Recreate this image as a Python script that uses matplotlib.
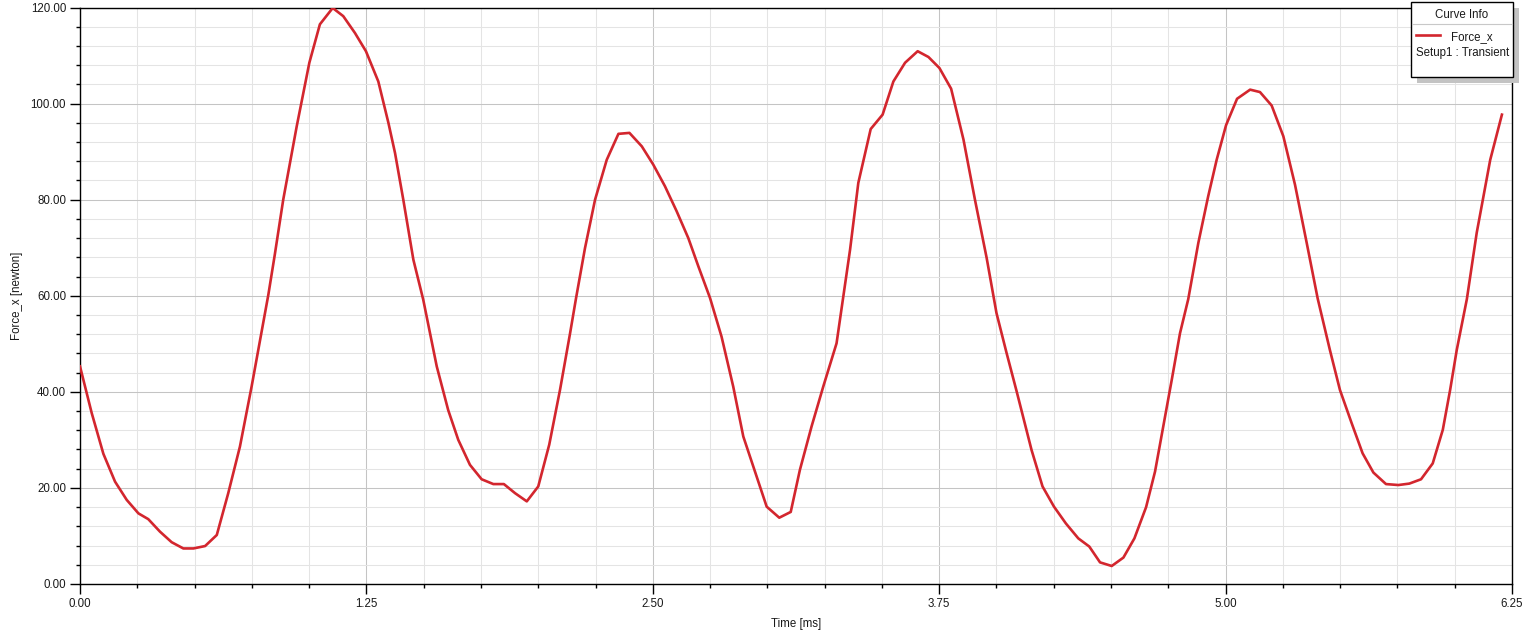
import matplotlib
matplotlib.use("Agg")
import matplotlib.pyplot as plt
from matplotlib.ticker import MultipleLocator, FormatStrFormatter
from matplotlib.patches import Rectangle
from matplotlib.lines import Line2D

plt.rcParams['font.family'] = ['Liberation Sans', 'DejaVu Sans']

time_ms = [0.000, 0.051, 0.102, 0.153, 0.204, 0.255, 0.298, 0.349, 0.400, 0.451,
           0.495, 0.546, 0.597, 0.647, 0.698, 0.749, 0.800, 0.822, 0.850, 0.887,
           0.946, 1.001, 1.047, 1.103, 1.149, 1.200, 1.248, 1.302, 1.346, 1.375,
           1.411, 1.455, 1.498, 1.557, 1.607, 1.651, 1.702, 1.753, 1.804, 1.850,
           1.899, 1.950, 2.000, 2.048, 2.095, 2.139, 2.165, 2.204, 2.248, 2.299,
           2.350, 2.398, 2.452, 2.502, 2.553, 2.604, 2.655, 2.699, 2.750, 2.800,
           2.851, 2.895, 2.946, 2.997, 3.052, 3.102, 3.142, 3.193, 3.244, 3.302,
           3.361, 3.397, 3.451, 3.503, 3.550, 3.601, 3.656, 3.703, 3.751, 3.802,
           3.856, 3.906, 3.957, 4.000, 4.044, 4.088, 4.153, 4.201, 4.251, 4.303,
           4.357, 4.405, 4.452, 4.503, 4.554, 4.602, 4.653, 4.692, 4.728, 4.765,
           4.801, 4.837, 4.881, 4.924, 4.961, 5.002, 5.050, 5.107, 5.150, 5.201,
           5.252, 5.303, 5.354, 5.402, 5.455, 5.499, 5.550, 5.598, 5.645, 5.700,
           5.754, 5.802, 5.853, 5.904, 5.948, 5.980, 6.009, 6.053, 6.096, 6.155,
           6.206]
force_x = [45.3, 35.6, 27.1, 21.3, 17.5, 14.7, 13.5, 10.9, 8.7, 7.4,
           7.4, 7.9, 10.2, 18.9, 28.6, 41.1, 54.4, 60.2, 68.5, 80.0,
           95.3, 108.5, 116.5, 119.9, 118.2, 114.7, 110.9, 104.6, 96.0, 89.7,
           80.0, 67.5, 59.2, 45.3, 36.2, 30.0, 24.8, 21.8, 20.8, 20.8,
           18.9, 17.2, 20.3, 29.0, 40.4, 52.2, 59.5, 69.9, 80.0, 88.3,
           93.7, 93.9, 91.1, 87.3, 82.8, 77.6, 72.0, 66.1, 59.5, 51.5,
           41.1, 30.7, 23.4, 16.1, 13.8, 15.0, 23.75, 32.8, 41.1, 50.1,
           69.6, 83.5, 94.7, 97.7, 104.6, 108.5, 110.9, 109.7, 107.4, 103.1,
           92.5, 80.0, 67.9, 56.4, 48.1, 40.1, 27.9, 20.3, 16.1, 12.6,
           9.5, 7.8, 4.5, 3.75, 5.5, 9.5, 16.0, 23.4, 32.8, 42.5,
           52.2, 59.3, 71.0, 80.7, 88.3, 95.5, 101.0, 102.9, 102.4, 99.6,
           93.2, 83.1, 71.0, 59.4, 48.75, 40.4, 33.5, 27.2, 23.2, 20.8,
           20.6, 20.9, 21.8, 25.1, 32.1, 40.4, 48.75, 59.3, 73.1, 88.3,
           97.7]

series_name = "Force_x"
setup_name = "Setup1 : Transient"
legend_title = "Curve Info"
x_label = "Time [ms]"
y_label = "Force_x [newton]"

W, H = 1538, 636
fig = plt.figure(figsize=(W / 100, H / 100), dpi=100)
fig.patch.set_facecolor('white')

ax_l, ax_r, ax_t, ax_b = 80, 1512, 7.5, 584
ax = fig.add_axes([ax_l / W, (H - ax_b) / H, (ax_r - ax_l) / W, (ax_b - ax_t) / H])

ax.plot(time_ms, force_x, color='#d3262e', lw=1.9, solid_joinstyle='round', zorder=3)

ax.set_xlim(0, 6.25)
ax.set_ylim(0, 120)
ax.xaxis.set_major_locator(MultipleLocator(1.25))
ax.xaxis.set_minor_locator(MultipleLocator(0.25))
ax.yaxis.set_major_locator(MultipleLocator(20))
ax.yaxis.set_minor_locator(MultipleLocator(4))
ax.xaxis.set_major_formatter(FormatStrFormatter('%.2f'))
ax.yaxis.set_major_formatter(FormatStrFormatter('%.2f'))

ax.grid(which='major', color='#c4c4c4', lw=0.75, zorder=0)
ax.grid(which='minor', color='#e4e4e4', lw=0.75, zorder=0)
ax.set_axisbelow(True)

for s in ax.spines.values():
    s.set_color('black')
    s.set_linewidth(1.0)

ax.tick_params(which='major', direction='out', length=7, width=1, color='black',
               labelsize=8.3, pad=3, labelcolor='#1a1a1a')
ax.tick_params(which='minor', direction='out', length=3, width=1, color='black')

fig.text((ax_l + ax_r) / 2 / W, 1 - 624 / H, x_label, ha='center', va='center',
         fontsize=8.3, color='#1a1a1a')
fig.text(17 / W, 1 - ((ax_t + ax_b) / 2) / H, y_label, ha='center', va='center',
         rotation=90, fontsize=8.3, color='#1a1a1a')

# Legend box ("Curve Info") drawn in pixel coordinates
def fx(px):
    return px / W

def fy(py):
    return 1 - py / H

bx0, bx1, by0, by1 = 1411, 1513, 2, 77
shadow = Rectangle((fx(bx0 + 6), fy(by1 + 6)), fx(bx1 - bx0), (by1 - by0) / H,
                   transform=fig.transFigure, facecolor='#c3c3c3', edgecolor='none', zorder=5)
box = Rectangle((fx(bx0), fy(by1)), fx(bx1 - bx0), (by1 - by0) / H,
                transform=fig.transFigure, facecolor='white', edgecolor='black', lw=1.0, zorder=6)
fig.add_artist(shadow)
fig.add_artist(box)
fig.add_artist(Line2D([fx(bx0 + 1), fx(bx1 - 1)], [fy(23.5), fy(23.5)], transform=fig.transFigure,
                      color='#c8c8c8', lw=0.8, zorder=7))
fig.text(fx((bx0 + bx1) / 2), fy(14.5), legend_title, ha='center', va='center',
         fontsize=8.3, color='#1a1a1a', zorder=8)
fig.add_artist(Line2D([fx(1416), fx(1440)], [fy(35), fy(35)], transform=fig.transFigure,
                      color='#d3262e', lw=1.9, zorder=8))
fig.text(fx(1451), fy(37), series_name, ha='left', va='center',
         fontsize=8.3, color='#1a1a1a', zorder=8)
fig.text(fx(1416), fy(53), setup_name, ha='left', va='center',
         fontsize=8.3, color='#1a1a1a', zorder=8)

fig.savefig('out.png', dpi=100, facecolor='white')
